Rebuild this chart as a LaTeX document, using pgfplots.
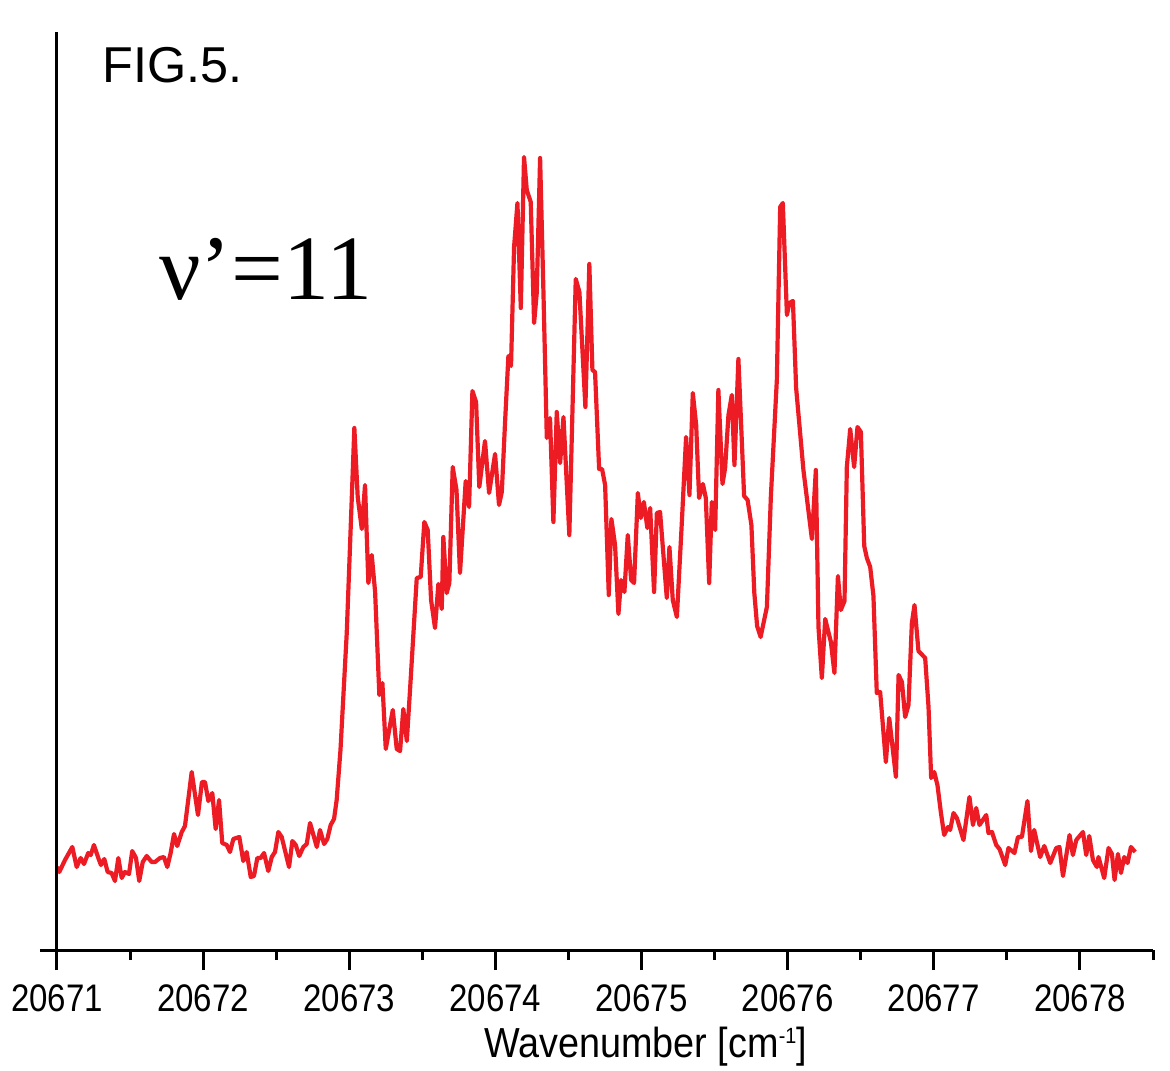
\documentclass[border=0pt]{standalone}
\usepackage{pgfplots}
\pgfplotsset{compat=1.18}
\usepackage{fontspec}
\setmainfont{Liberation Sans}
\newfontfamily\tickfont[FakeStretch=0.86]{Liberation Sans}
\newfontfamily\labfont[FakeStretch=0.9]{Liberation Sans}
\newfontfamily\seriffont{Liberation Serif}
\definecolor{origred}{RGB}{237,28,36}
\begin{document}
\begin{tikzpicture}
\useasboundingbox (-20pt,-60pt) rectangle (565pt,475pt);
\begin{axis}[
  scale only axis,
  width=556.5pt, height=459pt,
  xmin=20670.884, xmax=20678.5,
  ymin=0, ymax=918,
  axis x line=bottom, axis y line=none,
  x axis line style={-, line width=1.5pt, black},
  scaled x ticks=false,
  xtick={20671,20672,20673,20674,20675,20676,20677,20678},
  xticklabels={20671,20672,20673,20674,20675,20676,20677,20678},
  minor xtick={20671.5,20672.5,20673.5,20674.5,20675.5,20676.5,20677.5,20678.5},
  tick align=outside,
  major tick length=10pt, minor tick length=5pt,
  every tick/.style={black, line width=1.5pt},
  xticklabel style={font=\tickfont\fontsize{19.2}{20}\selectfont, inner sep=0pt, anchor=north, yshift=-7pt},
  clip=false,
]
\addplot[color=origred, line width=2.1pt, line join=round, mark=none] table {
x y
20671.000 83
20671.016 78
20671.055 90
20671.105 103
20671.135 83
20671.162 92
20671.185 86
20671.214 97
20671.231 95
20671.253 105
20671.283 92
20671.301 85
20671.324 91
20671.347 78
20671.374 77
20671.397 69
20671.420 92
20671.443 72
20671.465 78
20671.493 76
20671.515 99
20671.541 92
20671.563 69
20671.587 88
20671.614 94
20671.648 88
20671.671 88
20671.705 92
20671.732 93
20671.755 83
20671.778 97
20671.801 116
20671.823 104
20671.854 118
20671.876 124
20671.922 178
20671.965 135
20671.992 168
20672.013 168
20672.036 149
20672.063 157
20672.086 121
20672.109 150
20672.131 107
20672.162 105
20672.184 98
20672.207 111
20672.248 113
20672.275 89
20672.298 98
20672.326 73
20672.348 74
20672.371 92
20672.394 92
20672.417 97
20672.446 79
20672.470 93
20672.492 98
20672.515 118
20672.538 113
20672.588 83
20672.611 109
20672.634 105
20672.658 94
20672.686 103
20672.709 106
20672.732 127
20672.778 103
20672.800 120
20672.828 106
20672.850 111
20672.873 125
20672.896 131
20672.914 150
20672.940 200
20672.983 317
20673.005 403
20673.035 522
20673.058 453
20673.086 421
20673.108 465
20673.131 367
20673.154 395
20673.177 358
20673.206 255
20673.227 267
20673.250 201
20673.298 240
20673.325 201
20673.348 199
20673.370 241
20673.394 209
20673.416 260
20673.462 372
20673.489 373
20673.514 428
20673.537 420
20673.560 350
20673.587 322
20673.610 366
20673.633 341
20673.644 413
20673.667 357
20673.685 367
20673.708 483
20673.734 460
20673.758 377
20673.797 469
20673.820 443
20673.843 559
20673.868 548
20673.890 463
20673.929 509
20673.957 457
20673.998 496
20674.025 445
20674.044 458
20674.066 527
20674.089 594
20674.107 584
20674.128 703
20674.151 747
20674.174 642
20674.196 793
20674.215 760
20674.242 748
20674.265 627
20674.283 657
20674.306 792
20674.329 657
20674.352 512
20674.374 532
20674.397 428
20674.420 538
20674.443 487
20674.466 533
20674.506 415
20674.550 671
20674.575 658
20674.616 543
20674.643 686
20674.664 580
20674.682 578
20674.710 481
20674.730 481
20674.751 465
20674.776 355
20674.794 431
20674.819 405
20674.842 336
20674.860 370
20674.883 358
20674.906 415
20674.929 370
20674.949 367
20674.975 457
20674.995 432
20675.016 448
20675.040 422
20675.059 442
20675.086 358
20675.105 437
20675.127 438
20675.173 352
20675.191 403
20675.214 350
20675.242 333
20675.276 428
20675.305 513
20675.328 455
20675.351 557
20675.374 525
20675.394 452
20675.420 466
20675.440 452
20675.463 367
20675.481 448
20675.504 420
20675.526 560
20675.554 466
20675.572 482
20675.595 535
20675.618 555
20675.636 485
20675.663 591
20675.702 454
20675.726 450
20675.752 425
20675.772 357
20675.791 324
20675.815 313
20675.858 343
20675.885 453
20675.926 570
20675.949 743
20675.967 747
20675.995 635
20676.012 647
20676.036 649
20676.058 562
20676.108 480
20676.166 411
20676.193 480
20676.211 323
20676.234 272
20676.257 331
20676.296 308
20676.320 277
20676.344 374
20676.364 340
20676.389 349
20676.405 483
20676.428 521
20676.455 483
20676.478 523
20676.501 518
20676.524 404
20676.542 392
20676.565 383
20676.587 354
20676.610 257
20676.633 258
20676.672 188
20676.695 232
20676.741 173
20676.759 275
20676.782 268
20676.804 233
20676.827 245
20676.850 327
20676.868 345
20676.895 299
20676.941 292
20676.964 243
20676.982 172
20677.003 178
20677.025 165
20677.049 137
20677.071 115
20677.097 123
20677.112 120
20677.135 137
20677.158 132
20677.203 110
20677.244 153
20677.268 125
20677.290 142
20677.313 125
20677.359 135
20677.374 117
20677.398 118
20677.427 105
20677.450 101
20677.489 85
20677.511 102
20677.552 97
20677.576 113
20677.603 113
20677.641 149
20677.665 99
20677.687 120
20677.728 93
20677.756 104
20677.797 87
20677.838 102
20677.860 103
20677.884 74
20677.929 115
20677.952 95
20677.975 110
20678.021 118
20678.043 95
20678.064 114
20678.089 90
20678.116 83
20678.127 93
20678.166 72
20678.196 102
20678.219 96
20678.237 70
20678.260 96
20678.281 77
20678.303 93
20678.326 87
20678.349 103
20678.378 98
};
\draw[black, line width=1.5pt] (axis cs:20671,0) -- (axis cs:20671,918);
\end{axis}
\node[anchor=base west, inner sep=0pt, font=\fontsize{25.2}{27}\selectfont] at (31pt,433.5pt) {FIG.5.};
\node[anchor=base west, inner sep=0pt, font=\seriffont\fontsize{46}{48}\selectfont] at (59.5pt,325pt) {ν’=11};
\node[anchor=base, inner sep=0pt, font=\labfont\fontsize{21}{22}\selectfont] at (302.75pt,-53.5pt) {Wavenumber [cm\raisebox{7pt}{\fontsize{11}{11}\selectfont -1}]};
\end{tikzpicture}
\end{document}
